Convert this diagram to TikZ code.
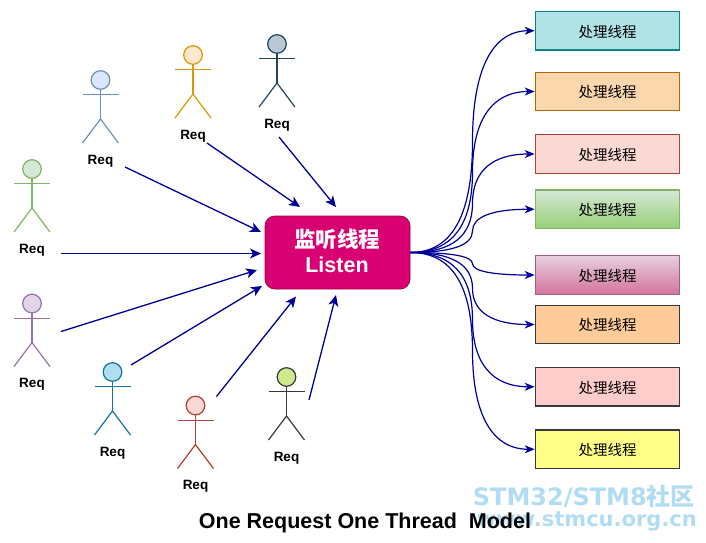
\documentclass[tikz,border=0pt]{standalone}
\usepackage{fontspec}
\setmainfont{Liberation Sans}
\newfontfamily\cjk{Noto Sans CJK SC}
\newfontfamily\markfont{DejaVu Sans}
\usetikzlibrary{arrows.meta,calc}

\definecolor{flowblue}{HTML}{000099}
\definecolor{markblue}{HTML}{B0DDF3}
\definecolor{listenfill}{HTML}{D80073}
\definecolor{listenline}{HTML}{A50040}
\definecolor{blueline}{HTML}{6C8EBF}
\definecolor{bluefill}{HTML}{DAE8FC}
\definecolor{orangeline}{HTML}{D79B00}
\definecolor{orangefill}{HTML}{FFE6CC}
\definecolor{slateline}{HTML}{23445D}
\definecolor{slatefill}{HTML}{BAC8D3}
\definecolor{greenline}{HTML}{82B366}
\definecolor{greenfill}{HTML}{D5E8D4}
\definecolor{purpleline}{HTML}{9673A6}
\definecolor{purplefill}{HTML}{E1D5E7}
\definecolor{cyanline}{HTML}{10739E}
\definecolor{cyanfill}{HTML}{B1DDF0}
\definecolor{redline}{HTML}{AE4132}
\definecolor{redfill}{HTML}{FAD9D5}
\definecolor{limeline}{HTML}{36393D}
\definecolor{limefill}{HTML}{CDEB8B}
\definecolor{tealfill}{HTML}{B0E3E6}
\definecolor{tealline}{HTML}{0E8088}
\definecolor{sandfill}{HTML}{FAD7AC}
\definecolor{sandline}{HTML}{B46504}
\definecolor{leaftop}{HTML}{D5E8D4}
\definecolor{leafbottom}{HTML}{97D077}
\definecolor{plumtop}{HTML}{E6D0DE}
\definecolor{plumbottom}{HTML}{D5739D}
\definecolor{plumline}{HTML}{996185}
\definecolor{peachfill}{HTML}{FFCC99}
\definecolor{pinkfill}{HTML}{FFCCCC}
\definecolor{yellowfill}{HTML}{FFFF88}

\newcommand{\actor}[4]{% name, head centre, line, fill
  \node[head, draw=#3, fill=#4] (#1) at (#2) {};
  \draw[limb, draw=#3] (#1.south) -- ($(#1)+(0,39)$) coordinate (#1hip);
  \draw[limb, draw=#3] ($(#1)+(-18,14.6)$) -- ($(#1)+(18,14.6)$);
  \draw[limb, draw=#3] ($(#1hip)+(-18,24)$) -- (#1hip) -- ($(#1hip)+(18,24)$);
  \node[req] (#1req) at ($(#1)+(0,81)$) {Req};
}

\begin{document}
\begin{tikzpicture}[x=1pt,y=-1pt,
  head/.style = {circle, inner sep=0pt, minimum size=18.6pt, line width=1.2pt},
  limb/.style = {line width=1.2pt},
  req/.style = {font=\fontsize{13.5}{13.5}\selectfont\bfseries, inner sep=0pt},
  listenbox/.style = {draw=listenline, fill=listenfill, rounded corners=10pt, line width=.8pt,
    minimum width=145pt, minimum height=73pt, inner sep=0pt},
  listentext/.style = {inner sep=0pt, text=white, align=center,
    font=\fontsize{21.5}{25}\selectfont\bfseries},
  worker/.style = {minimum width=144.5pt, minimum height=38.5pt, inner sep=0pt, line width=1.1pt,
    text height=14pt, text depth=1.3pt, font=\fontsize{14.5}{14.5}\selectfont\cjk},
  reqflow/.style = {draw=flowblue, line width=1.3pt, -{Stealth[length=11pt,width=10pt,inset=3pt]}},
  workflow/.style = {draw=flowblue, line width=1.2pt, -{Stealth[length=10pt,width=8pt,inset=3pt]}}]

\useasboundingbox (0,0) rectangle (706,542);

% watermark
\node[text=markblue, inner sep=0pt, anchor=base east] (mark1) at (695,505)
  {\fontsize{24}{26}\selectfont\markfont\bfseries STM32/STM8\cjk\bfseries 社区};
\node[text=markblue, inner sep=0pt, anchor=base east] (mark2) at (697,526.5)
  {\fontsize{21}{24}\selectfont\markfont\bfseries www.stmcu.org.cn};
\node[inner sep=0pt, anchor=base, font=\fontsize{21.5}{24}\selectfont\bfseries] (title) at (365,528)
  {One Request One Thread\ \ Model};

% requests
\actor{blueman}{100.5,80}{blueline}{bluefill}
\actor{orangeman}{193,55}{orangeline}{orangefill}
\actor{slateman}{277,44}{slateline}{slatefill}
\actor{greenman}{32,169}{greenline}{greenfill}
\actor{purpleman}{32,303.5}{purpleline}{purplefill}
\actor{cyanman}{112.5,372}{cyanline}{cyanfill}
\actor{redman}{195.5,405.5}{redline}{redfill}
\actor{limeman}{286.5,377}{limeline}{limefill}

\node[listenbox] (listen) at (337.5,252.5) {};
\node[listentext] (listentxt) at (337,251) {{\cjk\bfseries 监听线程}\\Listen};

% workers
\node[worker, draw=tealline, fill=tealfill] (t1) at (607.5,30.75) {处理线程};
\node[worker, draw=sandline, fill=sandfill] (t2) at (607.5,91.5) {处理线程};
\node[worker, draw=redline, fill=redfill] (t3) at (607.5,154) {处理线程};
\node[worker, draw=greenline, top color=leaftop, bottom color=leafbottom] (t4) at (607.5,209.25) {处理线程};
\node[worker, draw=plumline, top color=plumtop, bottom color=plumbottom] (t5) at (607.5,275) {处理线程};
\node[worker, draw=limeline, fill=peachfill] (t6) at (607.5,324.5) {处理线程};
\node[worker, draw=limeline, fill=pinkfill] (t7) at (607.5,386.75) {处理线程};
\node[worker, draw=limeline, fill=yellowfill] (t8) at (607.5,449.25) {处理线程};

% free ends of the request arrows
\coordinate (a1) at (125,167);   \coordinate (b1) at (261,232);
\coordinate (a2) at (207,143);   \coordinate (b2) at (300,207);
\coordinate (a3) at (279,137);   \coordinate (b3) at (336,207);
\coordinate (a4) at (61,253.5);  \coordinate (b4) at (261,253.5);
\coordinate (a5) at (61,331.5);  \coordinate (b5) at (257,270);
\coordinate (a6) at (131,365);   \coordinate (b6) at (262,286);
\coordinate (a7) at (216.5,396.5); \coordinate (b7) at (296,296.5);
\coordinate (a8) at (309,400);   \coordinate (b8) at (336,295);

\foreach \n in {1,...,8}
  \draw[reqflow] (a\n) -- (b\n);

% fork of the worker curves
\coordinate (fork) at (472.5,252.5);
\foreach \n in {1,...,8} {
  \coordinate (c\n) at (fork |- t\n.west);
  \coordinate (m\n) at ($(fork)!.5!(c\n)$);
  \draw[workflow] (listen.east)
    .. controls ($(listen.east)!.667!(fork)$) and ($(m\n)!.667!(fork)$) .. (m\n)
    .. controls ($(m\n)!.667!(c\n)$) and ($(t\n.west)!.667!(c\n)$) .. (t\n.west);
}

\end{tikzpicture}
\end{document}
